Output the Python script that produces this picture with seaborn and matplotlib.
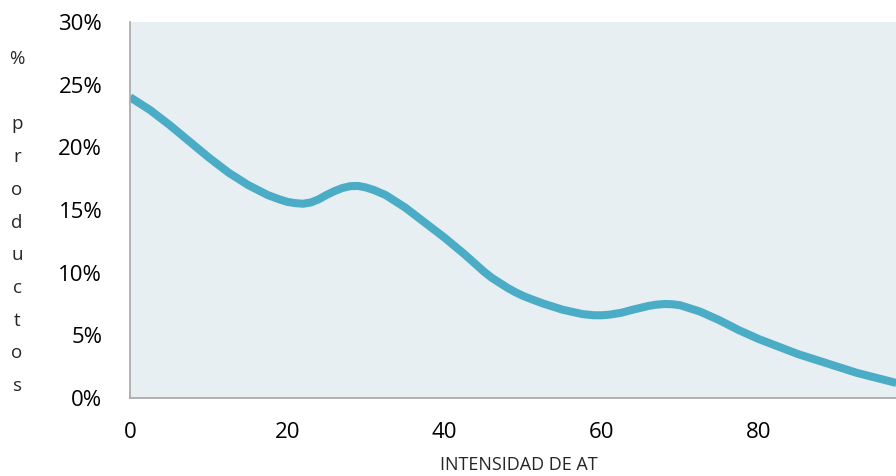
import matplotlib
matplotlib.use("Agg")
import matplotlib.pyplot as plt
import seaborn as sns
import pandas as pd

# values (percent of products)
intensidad = [0, 2.5, 5, 7.5, 10, 12.5, 15, 17.5, 19, 20, 21, 22, 23, 24,
              25, 26, 27, 28, 29, 30, 31, 32.5, 35, 37.5, 40, 42.5, 45, 46,
              47, 48, 49, 50, 51, 52.5, 55, 57.5, 59, 60, 61, 62.5, 64, 65,
              66, 67, 68, 69, 70, 71, 72.5, 75, 77.5, 80, 82.5, 85, 87.5, 90,
              92.5, 95, 97.5]
pct_productos = [24.0, 23.0, 21.8, 20.5, 19.2, 18.0, 17.0, 16.2, 15.85,
                 15.65, 15.55, 15.5, 15.6, 15.85, 16.2, 16.5, 16.75, 16.9,
                 16.92, 16.8, 16.6, 16.2, 15.2, 14.0, 12.8, 11.5, 10.1, 9.6,
                 9.2, 8.8, 8.45, 8.15, 7.9, 7.55, 7.05, 6.7, 6.6, 6.6, 6.65,
                 6.8, 7.05, 7.2, 7.35, 7.45, 7.5, 7.48, 7.4, 7.2, 6.9, 6.2,
                 5.4, 4.7, 4.1, 3.5, 3.0, 2.5, 2.0, 1.6, 1.2]

x_ticks = [0, 20, 40, 60, 80]
y_ticks = [0, 5, 10, 15, 20, 25, 30]

df = pd.DataFrame({"x": intensidad, "y": pct_productos})

sns.set_style("white")
plt.rcParams["font.family"] = ["Open Sans", "DejaVu Sans"]

fig = plt.figure(figsize=(8.96, 4.76), dpi=100)
ax = fig.add_axes([130 / 896, 1 - 398 / 476, 1 - 130 / 896, 376 / 476])
ax.set_facecolor("#E8EFF3")

sns.lineplot(data=df, x="x", y="y", ax=ax, color="#4BACC6", linewidth=5.8,
             solid_capstyle="butt", solid_joinstyle="round")

ax.set_xlim(0, 97.45)
ax.set_ylim(0, 30)
ax.set_xticks(x_ticks)
ax.set_yticks(y_ticks)
ax.set_yticklabels([f"{v}%" for v in y_ticks])

for side in ["top", "right"]:
    ax.spines[side].set_visible(False)
for side in ["left", "bottom"]:
    ax.spines[side].set_color("#A6A6A6")
    ax.spines[side].set_linewidth(1.2)

ax.tick_params(axis="both", direction="out", length=6, width=1.2,
               color="#A6A6A6", labelsize=16, labelcolor="black")
ax.tick_params(axis="y", pad=14)
ax.tick_params(axis="x", pad=11)

ax.set_xlabel("INTENSIDAD DE AT", fontsize=13)
ax.xaxis.set_label_coords((519 - 130) / 766, -0.155)
ax.set_ylabel("")

fig.text(17 / 896, 1 - 222.5 / 476, "%\n\np\nr\no\nd\nu\nc\nt\no\ns",
         ha="center", va="center", fontsize=13.5, linespacing=2.05)

fig.savefig("out.png", dpi=100)
